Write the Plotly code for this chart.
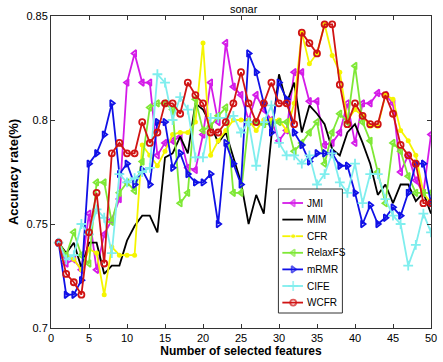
import plotly.graph_objects as go

x = list(range(1, 51))

JMI = [0.741,0.731,0.733,0.728,0.755,0.728,0.745,0.752,0.762,0.818,0.832,0.818,0.818,0.783,0.789,0.790,0.792,0.777,0.776,0.793,
       0.818,0.799,0.837,0.816,0.812,0.800,0.812,0.805,0.800,0.790,0.795,0.823,0.823,0.809,0.809,0.788,0.789,0.794,0.808,0.789,
       0.808,0.808,0.813,0.812,0.808,0.775,0.783,0.771,0.765,0.793]
MIM = [0.741,0.736,0.741,0.729,0.741,0.741,0.726,0.730,0.730,0.742,0.749,0.754,0.754,0.746,0.782,0.784,0.792,0.784,0.808,0.805,
       0.798,0.789,0.794,0.782,0.770,0.750,0.764,0.755,0.792,0.822,0.808,0.818,0.794,0.807,0.803,0.798,0.786,0.783,0.794,0.798,
       0.789,0.779,0.764,0.769,0.760,0.769,0.769,0.761,0.765,0.755]
CFR = [0.741,0.735,0.733,0.728,0.738,0.736,0.716,0.739,0.735,0.735,0.735,0.788,0.783,0.778,0.785,0.793,0.794,0.794,0.799,0.837,
       0.783,0.790,0.795,0.800,0.800,0.800,0.795,0.800,0.800,0.800,0.795,0.808,0.842,0.827,0.832,0.846,0.831,0.823,0.800,0.805,
       0.802,0.797,0.797,0.812,0.810,0.795,0.790,0.783,0.765,0.760]
RelaxFS = [0.741,0.735,0.746,0.735,0.731,0.770,0.770,0.751,0.765,0.770,0.766,0.780,0.806,0.808,0.808,0.805,0.760,0.765,0.810,0.795,
           0.797,0.802,0.806,0.765,0.765,0.799,0.799,0.798,0.798,0.799,0.799,0.785,0.789,0.794,0.799,0.779,0.794,0.803,0.799,0.826,
           0.799,0.790,0.775,0.760,0.789,0.785,0.773,0.765,0.765,0.765]
mRMR = [0.741,0.716,0.716,0.723,0.779,0.784,0.793,0.808,0.774,0.779,0.769,0.776,0.769,0.799,0.799,0.777,0.784,0.774,0.770,0.770,
        0.774,0.750,0.789,0.779,0.769,0.832,0.823,0.808,0.794,0.818,0.810,0.794,0.788,0.780,0.784,0.784,0.784,0.778,0.778,0.765,
        0.750,0.759,0.750,0.753,0.758,0.754,0.765,0.779,0.779,0.760]
CIFE = [0.741,0.733,0.735,0.750,0.745,0.757,0.753,0.736,0.774,0.770,0.772,0.775,0.777,0.822,0.818,0.800,0.811,0.805,0.782,0.782,
        0.801,0.801,0.801,0.802,0.794,0.799,0.778,0.799,0.807,0.789,0.783,0.783,0.779,0.783,0.769,0.774,0.784,0.770,0.765,0.779,
        0.760,0.774,0.774,0.762,0.754,0.750,0.730,0.740,0.755,0.746]
WCFR = [0.741,0.726,0.722,0.716,0.746,0.765,0.731,0.784,0.789,0.784,0.784,0.799,0.789,0.794,0.808,0.808,0.803,0.818,0.812,0.808,
        0.794,0.794,0.799,0.808,0.823,0.808,0.799,0.808,0.818,0.808,0.808,0.798,0.842,0.837,0.832,0.846,0.846,0.817,0.798,0.808,
        0.802,0.798,0.798,0.812,0.803,0.788,0.783,0.779,0.760,0.760]

x_ticks = [0, 5, 10, 15, 20, 25, 30, 35, 40, 45, 50]
x_tick_labels = ["0", "5", "10", "15", "20", "25", "30", "35", "40", "45", "50"]
y_ticks = [0.7, 0.75, 0.8, 0.85]
y_tick_labels = ["0.7", "0.75", "0.8", "0.85"]

series = [
    ("JMI", JMI, "#D41BE8", dict(symbol="triangle-left-open", size=6, line=dict(width=1.8))),
    ("MIM", MIM, "#000000", None),
    ("CFR", CFR, "#F5F500", dict(symbol="circle", size=5)),
    ("RelaxFS", RelaxFS, "#7FE836", dict(symbol="triangle-left-open", size=6, line=dict(width=1.8))),
    ("mRMR", mRMR, "#1010E6", dict(symbol="triangle-right-open", size=6, line=dict(width=1.8))),
    ("CIFE", CIFE, "#7FEEEE", dict(symbol="cross-thin-open", size=7, line=dict(width=1.8))),
    ("WCFR", WCFR, "#D01414", dict(symbol="circle-open", size=6, line=dict(width=1.8))),
]

def make_marker(col, mk, sizes=None):
    m = dict(mk)
    m["color"] = col
    if "line" in m:
        m["line"] = dict(m["line"], color=col)
    if sizes is not None:
        m["size"] = sizes
    return m

fig = go.Figure()
for name, ys, col, mk in series:
    if mk is None:
        fig.add_trace(go.Scatter(x=x, y=ys, name=name, mode="lines",
                                 line=dict(color=col, width=1.8), showlegend=False))
    else:
        fig.add_trace(go.Scatter(x=x, y=ys, name=name, mode="lines+markers",
                                 line=dict(color=col, width=1.8),
                                 marker=make_marker(col, mk), showlegend=False))

# ---- hand-built legend on an overlay axis measured in pixels ----
box_l, box_r, box_t, box_b = 282, 347, 189, 313
fig.add_trace(go.Scatter(x=[box_l, box_r, box_r, box_l, box_l],
                         y=[box_t, box_t, box_b, box_b, box_t],
                         mode="lines", fill="toself", fillcolor="white",
                         line=dict(color="#333333", width=1),
                         xaxis="x2", yaxis="y2", showlegend=False, hoverinfo="skip"))
entry_y0, entry_dy = 203, 16.6
for i, (name, ys, col, mk) in enumerate(series):
    yy = entry_y0 + i * entry_dy
    if mk is None:
        fig.add_trace(go.Scatter(x=[286, 307], y=[yy, yy], mode="lines",
                                 line=dict(color=col, width=1.8),
                                 xaxis="x2", yaxis="y2", showlegend=False, hoverinfo="skip"))
    else:
        s = mk["size"]
        fig.add_trace(go.Scatter(x=[286, 297, 307], y=[yy, yy, yy], mode="lines+markers",
                                 line=dict(color=col, width=1.8),
                                 marker=make_marker(col, mk, [0, s, 0]),
                                 xaxis="x2", yaxis="y2", showlegend=False, hoverinfo="skip"))
    fig.add_annotation(x=309, y=yy, xref="x2", yref="y2", text=name, showarrow=False,
                       xanchor="left", yanchor="middle",
                       font=dict(size=10, family="Arial, Liberation Sans", color="#000000"))

axis_common = dict(showgrid=False, zeroline=False, showline=True, linecolor="#333333",
                   linewidth=1, mirror="ticks", ticks="inside", ticklen=4, tickcolor="#333333",
                   ticklabeloverflow="allow",
                   tickfont=dict(family="Arial, Liberation Sans", size=11, color="#000000"))

fig.update_layout(
    width=443, height=362,
    margin=dict(l=51, r=6, t=16, b=34),
    paper_bgcolor="white", plot_bgcolor="white",
    font=dict(family="Arial, Liberation Sans", color="#000000"),
    title=dict(text="sonar", x=0.55, xanchor="center", y=0.985, yanchor="top",
               font=dict(size=11, family="Arial, Liberation Sans", color="#000000")),
    xaxis=dict(range=[0, 50], tickvals=x_ticks, ticktext=x_tick_labels,
               title=dict(text="<b>Number of selected features</b>", standoff=3,
                          font=dict(size=12, family="Arial, Liberation Sans")),
               **axis_common),
    yaxis=dict(range=[0.7, 0.85], tickvals=y_ticks, ticktext=y_tick_labels,
               title=dict(text="<b>Accuracy rate(%)</b>", standoff=4,
                          font=dict(size=13, family="Arial, Liberation Sans")),
               **axis_common),
    xaxis2=dict(range=[51, 437], overlaying="x", visible=False, fixedrange=True),
    yaxis2=dict(range=[328, 16], overlaying="y", visible=False, fixedrange=True),
    showlegend=False,
)

fig.write_html("out.html")
